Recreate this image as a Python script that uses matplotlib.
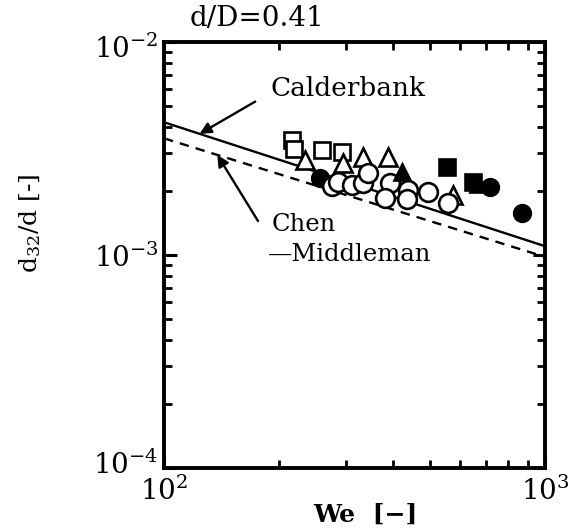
import numpy as np
import matplotlib
matplotlib.use("Agg")
import matplotlib.pyplot as plt
import matplotlib.transforms as mtransforms
from matplotlib.ticker import LogLocator, NullFormatter, FixedLocator

plt.rcParams['font.family'] = ['DejaVu Serif']
plt.rcParams['mathtext.fontset'] = 'dejavuserif'

# ---- data ----
open_sq_we = [217, 220, 260, 293]
open_sq_val = [3.45e-3, 3.15e-3, 3.10e-3, 3.04e-3]

open_tri_we = [234, 295, 333, 387, 574]
open_tri_val = [2.79e-3, 2.70e-3, 2.88e-3, 2.88e-3, 1.91e-3]

open_circ_we = [276, 286, 311, 333, 343, 392, 380, 437, 434, 494, 556]
open_circ_val = [2.10e-3, 2.19e-3, 2.12e-3, 2.17e-3, 2.42e-3, 2.17e-3, 1.85e-3,
                 2.01e-3, 1.83e-3, 1.97e-3, 1.75e-3]

fill_sq_we = [553, 647]
fill_sq_val = [2.58e-3, 2.19e-3]

fill_tri_we = [421, 667]
fill_tri_val = [2.46e-3, 2.15e-3]

fill_circ_we = [257, 718, 871]
fill_circ_val = [2.29e-3, 2.08e-3, 1.57e-3]

# correlation lines (end points)
line_we = [100, 1000]
calderbank_val = [4.20e-3, 1.10e-3]
chen_val = [3.53e-3, 9.8e-4]

x_ticks = [1e2, 1e3]
x_ticklabels = [r'$10^{2}$', r'$10^{3}$']
y_ticks = [1e-4, 1e-3, 1e-2]
y_ticklabels = [r'$10^{-4}$', r'$10^{-3}$', r'$10^{-2}$']

# ---- figure ----
W, H = 581, 532
fig = plt.figure(figsize=(W / 100, H / 100), dpi=100)
ax = fig.add_axes([164 / W, 1 - 468 / H, (545 - 164) / W, (468 - 42) / H])
ax.set_xscale('log')
ax.set_yscale('log')
ax.set_xlim(100, 1000)
ax.set_ylim(1e-4, 1e-2)

ax.plot(line_we, calderbank_val, color='black', lw=1.7, zorder=2)
ax.plot(line_we, chen_val, color='black', lw=1.7, ls=(0, (4, 3)), zorder=2)

mk = dict(linestyle='none', markeredgecolor='black', markeredgewidth=1.9, zorder=3)
ax.plot(open_sq_we, open_sq_val, marker='s', ms=12, markerfacecolor='white', **mk)
ax.plot(open_tri_we, open_tri_val, marker='^', ms=13, markerfacecolor='white', **mk)
ax.plot(fill_circ_we, fill_circ_val, marker='o', ms=12, markerfacecolor='black', **mk)
ax.plot(open_circ_we, open_circ_val, marker='o', ms=13.5, markerfacecolor='white', **mk)
ax.plot(fill_sq_we, fill_sq_val, marker='s', ms=11, markerfacecolor='black', **mk)
ax.plot(fill_tri_we, fill_tri_val, marker='^', ms=12, markerfacecolor='black', **mk)

for s in ax.spines.values():
    s.set_linewidth(2.8)

ax.xaxis.set_major_locator(FixedLocator(x_ticks))
ax.yaxis.set_major_locator(FixedLocator(y_ticks))
ax.set_xticklabels(x_ticklabels)
ax.set_yticklabels(y_ticklabels)
ax.xaxis.set_minor_locator(LogLocator(base=10, subs=np.arange(2, 10)))
ax.yaxis.set_minor_locator(LogLocator(base=10, subs=np.arange(2, 10)))
ax.xaxis.set_minor_formatter(NullFormatter())
ax.yaxis.set_minor_formatter(NullFormatter())
ax.tick_params(which='both', direction='in', top=True, right=True, color='black')
ax.tick_params(which='major', length=9, width=2.2, labelsize=20)
ax.tick_params(which='minor', length=6, width=2.0)
ax.tick_params(axis='x', which='major', pad=6)
ax.tick_params(axis='y', which='major', pad=4)

# nudge the lowest / highest y labels, as in the reference
fig.canvas.draw()
ylabs = ax.get_yticklabels()
ylabs[0].set_transform(ylabs[0].get_transform() +
                       mtransforms.ScaledTranslation(0, 6 / 100, fig.dpi_scale_trans))
ylabs[2].set_transform(ylabs[2].get_transform() +
                       mtransforms.ScaledTranslation(0, -4 / 100, fig.dpi_scale_trans))

# annotations
def on_line(we, vals):
    lx = np.log10(line_we)
    ly = np.log10(vals)
    return 10 ** np.interp(np.log10(we), lx, ly)

ax.annotate('Calderbank', xy=(124, on_line(124, calderbank_val)), xycoords='data',
            xytext=(270, H - 88), textcoords='figure pixels',
            fontsize=19, ha='left', va='center',
            arrowprops=dict(arrowstyle='-|>', color='black', lw=1.7,
                            mutation_scale=17, shrinkA=10, shrinkB=0,
                            relpos=(0, 0.3)))
ax.annotate('', xy=(138, on_line(138, chen_val)), xycoords='data',
            xytext=(258, H - 221), textcoords='figure pixels',
            arrowprops=dict(arrowstyle='-|>', color='black', lw=1.7,
                            mutation_scale=17, shrinkA=0, shrinkB=0))
fig.text(272 / W, 1 - 225 / H, 'Chen', fontsize=17.5, ha='left', va='center')
fig.text(268 / W, 1 - 254 / H, '\u2014Middleman', fontsize=17.5, ha='left', va='center')

fig.text(190 / W, 1 - 19 / H, 'd/D=0.41', fontsize=20, ha='left', va='center')
fig.text(30 / W, 1 - 223 / H, r'd$_{32}$/d [-]', fontsize=18, rotation=90,
         ha='center', va='center')
fig.text(365 / W, 1 - 515 / H, 'We  [−]', fontsize=18, fontweight='bold',
         ha='center', va='center')

fig.savefig('out.png', dpi=100)
